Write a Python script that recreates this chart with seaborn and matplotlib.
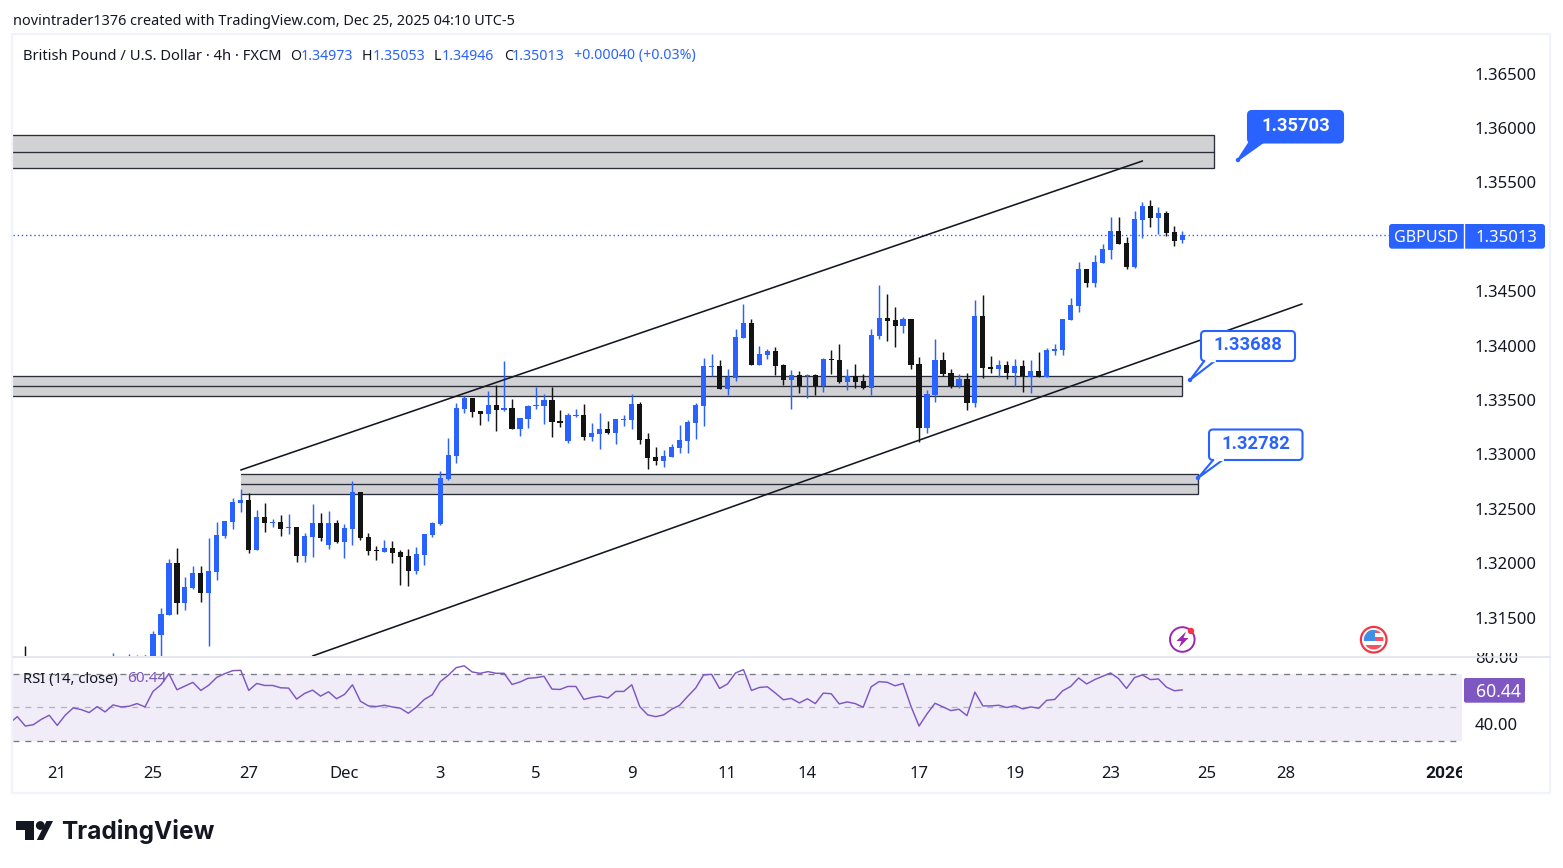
import numpy as np
import pandas as pd
import matplotlib
matplotlib.use("Agg")
import matplotlib.pyplot as plt
from matplotlib.patches import FancyBboxPatch, Polygon, Circle, Rectangle
from matplotlib.transforms import Bbox
import seaborn as sns

# ---------- data (prices in pipettes, 1 = 0.00001) ----------
first_bar = 16
highs = [
131378,131589,132040,132141,131874,131975,131975,132232,132380,132389,
132600,132683,132643,132490,132554,132407,132444,132453,132334,132278,
132545,132462,132481,132398,132361,132756,132655,132278,132159,132214,
132205,132122,132131,132150,132269,132380,132848,133151,133473,133537,
133519,133400,133583,133638,133859,133510,133335,133455,133620,133556,
133620,133409,133381,133418,133464,133289,133381,133308,133326,133363,
133556,133482,133197,133069,133041,133096,133271,133317,133473,133887,
133923,133868,133786,134153,134382,134245,133997,133969,133987,133831,
133776,133767,133739,133739,133886,133960,134015,133785,133831,133739,
134153,134557,134474,134355,134263,134245,133895,133592,134061,133941,
133785,133739,133748,134419,134465,133905,133868,133859,133877,133868,
133868,133941,133978,134015,134245,134438,134768,134704,134833,134934,
135182,135182,134998,135237,135320,135338,135274,135237,135099,135053]
body_tops = [
131350,131534,132003,132003,131782,131911,131911,131929,132260,132389,
132563,132582,132582,132425,132425,132383,132380,132334,132334,132251,
132370,132370,132370,132370,132324,132655,132655,132242,132122,132141,
132141,132104,132067,132085,132269,132370,132784,132995,133427,133519,
133519,133400,133455,133455,133427,133427,133335,133446,133455,133501,
133501,133308,133363,133363,133363,133197,133234,133234,133326,133326,
133464,133464,133142,132977,132986,133069,133133,133299,133455,133813,
133813,133813,133712,134079,134208,134208,133923,133951,133951,133822,
133730,133730,133730,133730,133877,133877,133868,133721,133721,133675,
134098,134254,134254,134235,134245,134245,133831,133555,133868,133868,
133748,133693,133693,134272,134272,133804,133822,133822,133813,133813,
133767,133767,133960,133969,134245,134373,134704,134704,134768,134888,
135053,135053,134943,135164,135283,135283,135219,135219,135044,135013]
body_bottoms = [
130950,131341,131525,131635,131635,131770,131727,131727,131920,132251,
132380,132554,132122,132122,132370,132373,132315,132324,132067,132067,
132242,132232,132168,132196,132196,132315,132232,132113,132116,132104,
132095,132058,131929,131929,132076,132260,132361,132775,132986,133418,
133390,133372,133372,133409,133409,133234,133234,133326,133446,133446,
133299,133289,133124,133354,133161,133161,133188,133197,133197,133317,
133317,133133,132968,132943,132940,132977,133060,133124,133289,133446,
133804,133602,133602,133702,134070,133822,133822,133914,133813,133684,
133684,133629,133721,133629,133629,133868,133666,133666,133666,133611,
133611,134088,134226,134180,134180,133822,133243,133243,133546,133739,
133629,133629,133473,133473,133794,133785,133785,133748,133748,133721,
133712,133712,133712,133951,133960,134235,134364,134575,134575,134759,
134879,134934,134722,134722,135154,135173,135173,135035,134961,134973]
lows = [
130900,131100,131525,131534,131571,131764,131644,131240,131847,132232,
132315,132471,132095,132122,132288,132334,132251,132269,132012,132012,
132058,132205,132131,132187,132049,132168,132214,132076,132030,132104,
132003,131801,131791,131902,131984,132242,132352,132766,132922,133381,
133344,133271,133308,133216,133400,133234,133170,133243,133418,133280,
133161,133253,133106,133344,133133,133124,133050,133188,133096,133262,
133234,133096,132867,132903,132885,132977,133014,133014,133142,133262,
133721,133602,133547,133675,134070,133822,133822,133877,133730,133638,
133418,133565,133519,133546,133574,133739,133657,133592,133611,133601,
133546,134061,134042,133987,134116,133785,133114,133197,133482,133721,
133611,133611,133408,133436,133702,133748,133712,133693,133629,133574,
133565,133712,133712,133914,133914,134235,134309,134539,134539,134759,
134796,134934,134704,134713,134989,135090,135026,135007,134915,134946]
directions = ("BBBKBBKBBB" "BBKBKBKBKB" "BKBKBBKKKB" "KKKBBBBBBB" "KKBKBKBBBB" "KKBBKBBKBB"
              "BKKKBBBBBB" "BKBBBKBBKK" "BKBKBKKBKK" "BBKKBKKBBK" "KBKBKKBKBK" "BKBBBBBKBB" "BKKBBKBKKB")
early_bars = [0, 11, 13, 14, 15]
early_highs = [131240, 131173, 131167, 131160, 131160]
early_dirs = "KBBBK"

rsi_first_bar = -2
rsi_values = [
40.3,44.35,38.7,39.5,42.7,45.2,39.1,45.2,49.6,48.6,46.8,50.4,47.2,51.4,50.2,50.6,52.2,50.2,
59.5,63.5,70.2,60.5,62.7,64.95,60.1,63.3,68.0,70.2,72.0,72.2,60.1,64.3,63.1,63.1,61.7,61.5,
54.9,58.3,60.3,56.7,59.3,55.1,57.7,63.5,53.6,50.8,50.4,51.2,50.2,49.4,46.4,50.0,54.7,57.5,
65.4,69.2,73.8,74.9,71.2,70.4,71.4,70.4,70.4,63.7,65.2,67.4,67.8,68.6,60.9,60.7,62.5,62.5,
54.7,55.9,56.7,55.5,59.5,59.5,63.5,50.4,45.4,44.35,45.4,48.8,51.2,56.5,61.5,69.4,69.8,61.3,
64.0,70.6,72.6,60.1,61.9,62.3,58.5,54.5,55.3,52.6,55.1,52.2,58.5,58.1,52.0,53.2,52.2,50.0,
62.3,65.4,65.0,62.9,64.3,50.4,38.7,46.0,52.4,50.2,48.0,48.8,44.96,59.1,50.8,50.8,51.2,49.8,
51.0,49.0,50.2,49.4,54.2,54.7,59.9,62.5,67.6,64.0,66.6,68.6,70.6,67.2,61.3,67.8,69.4,66.6,
67.0,62.1,59.9,60.44]

price_ticks = [1.315, 1.32, 1.325, 1.33, 1.335, 1.34, 1.345, 1.35, 1.355, 1.36, 1.365]
rsi_ticks = [40, 80]
date_bars = [4, 16, 28, 40, 52, 64, 76, 88, 98, 112, 124, 136, 148, 158, 178]
date_labels = ["21", "25", "27", "Dec", "3", "5", "9", "11", "14", "17", "19", "23", "25", "28", "2026"]

last_price = 1.35013
zones = [  # first bar, last bar, top, middle, bottom
    (-2, 149, 1.35936, 1.35779, 1.35632),
    (-2, 145, 1.33718, 1.33627, 1.33535),
    (27, 147, 1.32818, 1.32726, 1.32641),
]
channel_upper = ([27, 140], [1.32857, 1.35697])
channel_lower = ([36, 160], [1.31148, 1.34383])

# ---------- style ----------
sns.set_theme(style="white")
plt.rcParams["font.family"] = ["Noto Sans", "DejaVu Sans"]
BLUE = "#2962ff"
BLACK = "#131313"
INK = "#131722"
PURPLE = "#7e57c2"

W, H = 1563, 868
fig = plt.figure(figsize=(W / 100, H / 100), dpi=100, facecolor="white")

def rect(x0, y0, x1, y1):
    return [x0 / W, 1 - y1 / H, (x1 - x0) / W, (y1 - y0) / H]

ax = fig.add_axes(rect(13, 35, 1462, 656))
rax = fig.add_axes(rect(13, 657, 1462, 755), sharex=ax)

# ---------- candles ----------
df = pd.DataFrame({"bar": np.arange(len(highs)) + first_bar,
                   "high": np.array(highs) / 1e5, "top": np.array(body_tops) / 1e5,
                   "bottom": np.array(body_bottoms) / 1e5, "low": np.array(lows) / 1e5,
                   "dir": list(directions)})
df["color"] = df["dir"].map({"B": BLUE, "K": BLACK})

ax.set_xlim(-1.541, 180.04)
ax.set_ylim(1.311477, 1.368547)

for (b0, b1, t, m, bt) in zones:
    ax.fill_between([b0, b1], bt, t, color="#d2d2d5", lw=0, zorder=1)
    ax.plot([b0, b1, b1, b0], [t, t, bt, bt], color="#2a2e39", lw=0.95, zorder=1.5, solid_joinstyle="miter")
    ax.plot([b0, b1], [m, m], color="#2a2e39", lw=0.95, zorder=1.5)

ax.vlines(early_bars, 1.31, np.array(early_highs) / 1e5,
          colors=[BLUE if d == "B" else BLACK for d in early_dirs], lw=1.05, zorder=2)
ax.vlines(df["bar"], df["low"], df["high"], colors=df["color"], lw=1.05, zorder=2)
ax.bar(df["bar"], df["top"] - df["bottom"], bottom=df["bottom"], width=0.65,
       color=df["color"], linewidth=0, zorder=3)

ax.axhline(last_price, color=BLUE, lw=1.0, ls=(0, (1, 2)), zorder=1.8)
for xs, ys in (channel_upper, channel_lower):
    ax.plot(xs, ys, color=INK, lw=1.15, zorder=4)

ax.yaxis.tick_right()
ax.set_yticks(price_ticks)
ax.set_yticklabels([f"{p:.5f}" for p in price_ticks])
ax.tick_params(axis="y", length=0, pad=9.2, labelsize=12, labelcolor=INK)
ax.tick_params(axis="x", length=0, labelbottom=False)
ax.set_xlabel(""); ax.set_ylabel("")
sns.despine(ax=ax, left=True, bottom=True, right=True, top=True)

# ---------- RSI ----------
rsi_df = pd.DataFrame({"bar": np.arange(len(rsi_values)) + rsi_first_bar, "rsi": rsi_values})
rax.axhspan(30, 70, color="#f0edf8", lw=0, zorder=0)
for lvl, col in ((70, "#787b86"), (50, "#b2b5be"), (30, "#787b86")):
    rax.axhline(lvl, color=col, lw=0.95, ls=(0, (4.5, 4.5)), zorder=1)
sns.lineplot(data=rsi_df, x="bar", y="rsi", ax=rax, color=PURPLE, lw=1.05, errorbar=None, zorder=3)
rax.set_ylim(21.3, 80.2)
rax.yaxis.tick_right()
rax.set_yticks(rsi_ticks)
rax.set_yticklabels([f"{v:.2f}" for v in rsi_ticks])
rax.tick_params(axis="y", length=0, pad=9.2, labelsize=12, labelcolor=INK)
rax.set_xticks(date_bars)
rax.set_xticklabels(date_labels)
rax.tick_params(axis="x", length=0, pad=8, labelsize=12, labelcolor=INK)
rax.set_xlabel(""); rax.set_ylabel("")
sns.despine(ax=rax, left=True, bottom=True, right=True, top=True)
for t in rax.get_yticklabels():
    t.set_clip_box(Bbox([[0, 0], [W, H - 653]])); t.set_clip_on(True)
for t in rax.get_xticklabels():
    t.set_clip_box(Bbox([[13, 0], [1462, H]])); t.set_clip_on(True)
    if t.get_text() == "2026":
        t.set_fontfamily("Roboto"); t.set_fontweight("bold"); t.set_fontsize(12.5)

# ---------- overlay in pixel space (frame, header, callouts, tags, logo) ----------
ov = fig.add_axes([0, 0, 1, 1], zorder=10)
ov.set_xlim(0, W); ov.set_ylim(H, 0); ov.axis("off"); ov.patch.set_alpha(0)

ov.add_patch(Rectangle((12.3, 33.5), 1538, 759.5, fill=False, ec="#f0f3fa", lw=1.6))
ov.plot([13, 1550], [656.5, 656.5], color="#e0e3eb", lw=1.2)

def txt(x, y, s, size=10.4, color=INK, ha="left", weight="normal"):
    return ov.text(x, y, s, fontsize=size, color=color, ha=ha, va="center", fontweight=weight)

txt(13, 21.5, "novintrader1376 created with TradingView.com, Dec 25, 2025 04:10 UTC-5", size=10.4)
txt(23, 56, "British Pound / U.S. Dollar · 4h · FXCM", size=10.6)
for x, s, c in [(290, "O", INK), (301, "1.34973", BLUE), (362, "H", INK), (373, "1.35053", BLUE),
                (434, "L", INK), (442, "1.34946", BLUE), (504, "C", INK), (512, "1.35013", BLUE),
                (574, "+0.00040 (+0.03%)", BLUE)]:
    txt(x, 56, s, size=10.2, color=c)

txt(23, 679, "RSI (14, close)", size=10.6)
txt(127, 679, "60.44", size=11, color=PURPLE)

def box(x0, y0, x1, y1, fc, ec):
    ov.add_patch(FancyBboxPatch((x0 + 3, y0 + 3), x1 - x0 - 6, y1 - y0 - 6,
                                boxstyle="round,pad=3,rounding_size=4", fc=fc, ec=ec, lw=1.5, zorder=5))

def callout(x0, y0, x1, y1, tail, tip, label, filled):
    fc = BLUE if filled else "white"
    ov.add_patch(Polygon([(tail[0], y1 - 1), (tail[1], y1 - 1), tip], closed=True, fc=BLUE if filled else "white",
                         ec=BLUE, lw=1.5, zorder=4.5))
    box(x0, y0, x1, y1, fc, BLUE)
    if not filled:
        ov.plot([tail[0] + 1, tail[1] - 1], [y1, y1], color="white", lw=1.6, zorder=6)
    ov.add_patch(Circle(tip, 2.2, fc=BLUE, ec="none", zorder=6))
    ov.text((x0 + x1) / 2, (y0 + y1) / 2 - 0.5, label, fontsize=13.2, fontweight="bold", family="Roboto",
            ha="center", va="center", color="white" if filled else BLUE, zorder=7)

callout(1248, 111, 1343, 142.5, (1250, 1264), (1238, 160), "1.35703", True)
callout(1201, 331, 1295, 361, (1205, 1216), (1190, 380), "1.33688", False)
callout(1209, 429.5, 1302.5, 460, (1214, 1224), (1198, 478), "1.32782", False)

# price tag
ov.add_patch(FancyBboxPatch((1391, 226), 152, 20.7, boxstyle="round,pad=2,rounding_size=3", fc=BLUE, ec="none", zorder=5))
ov.plot([1463.5, 1463.5], [224, 248.7], color="white", lw=1, zorder=6)
ov.text(1426.5, 238, "GBPUSD", fontsize=11.6, color="white", ha="center", va="center", zorder=7)
ov.text(1476, 238, "1.35013", fontsize=12, color="white", ha="left", va="center", zorder=7)

# RSI tag
ov.add_patch(FancyBboxPatch((1464, 678), 61, 24.7, boxstyle="round,pad=0,rounding_size=2", fc=PURPLE, ec="none", zorder=5))
ov.text(1476, 692, "60.44", fontsize=12.6, color="white", ha="left", va="center", zorder=7)

# event icons
c1 = (1182.3, 639.5)
ov.add_patch(Circle(c1, 12.3, fc="white", ec="#9c27b0", lw=1.4, zorder=5))
ov.add_patch(Polygon([(1186, 631.5), (1176.5, 641), (1181.5, 641), (1179, 647.5), (1188.5, 638), (1183.5, 638)],
                     closed=True, fc="#9c27b0", ec="none", zorder=6))
ov.add_patch(Circle((1191, 631), 3.2, fc="#f23645", ec="none", zorder=7))

c2 = (1373.7, 639.7)
ov.add_patch(Circle(c2, 12.8, fc="white", ec="#f23645", lw=1.6, zorder=5))
clip_c = Circle(c2, 9.8, transform=ov.transData)
stripes = [Rectangle((1363, 630), 22, 20, fc="white", ec="none", zorder=6),
           Rectangle((1363, 637), 22, 3.6, fc="#f7525f", ec="none", zorder=6),
           Rectangle((1363, 645), 22, 5, fc="#f7525f", ec="none", zorder=6),
           Rectangle((1363, 629), 22, 3.5, fc="#f7525f", ec="none", zorder=6),
           Rectangle((1363, 629), 11.5, 11.5, fc="#3d8fe8", ec="none", zorder=7)]
for s in stripes:
    ov.add_patch(s); s.set_clip_path(clip_c)

# logo
ov.add_patch(Polygon([(15.5, 821), (33.5, 821), (33.5, 840), (24.5, 840), (24.5, 829.5), (15.5, 829.5)],
                     closed=True, fc=INK, ec="none"))
ov.add_patch(Circle((40.3, 825.5), 4.4, fc=INK, ec="none"))
ov.add_patch(Polygon([(46.5, 821), (53, 821), (43.3, 840), (36.8, 840)], closed=True, fc=INK, ec="none"))
ov.text(61, 831.5, "TradingView", fontsize=17.6, fontweight="bold", family="Inter", color=INK, ha="left", va="center")

fig.savefig("out.png", dpi=100, facecolor="white")
